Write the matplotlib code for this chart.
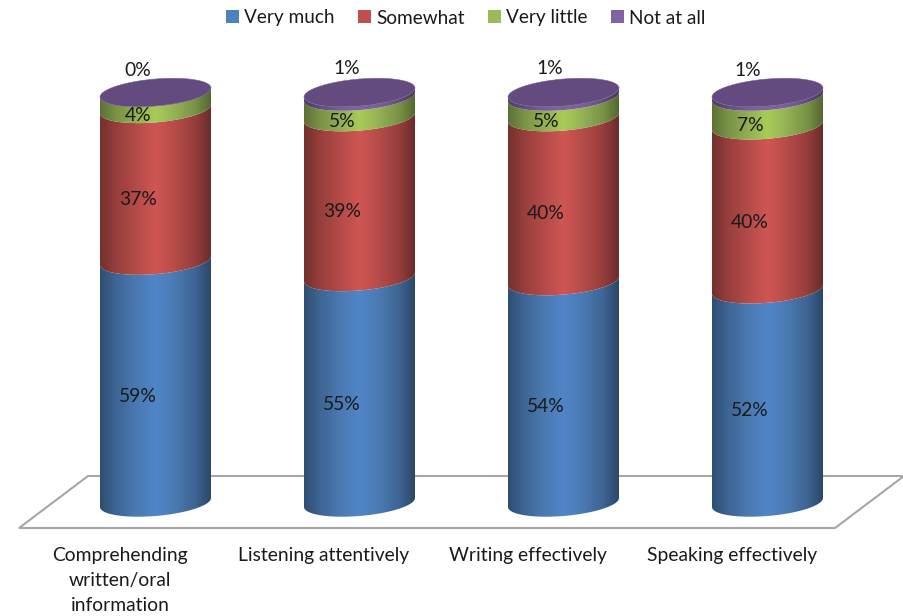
import numpy as np
import matplotlib
matplotlib.use("Agg")
import matplotlib.pyplot as plt
from matplotlib.colors import LinearSegmentedColormap, to_rgb
from matplotlib.patches import Patch, PathPatch, Polygon
from matplotlib.path import Path

categories = ["Comprehending\nwritten/oral\ninformation", "Listening attentively",
              "Writing effectively", "Speaking effectively"]
very_much = [59, 55, 54, 52]
somewhat = [37, 39, 40, 40]
very_little = [4, 5, 5, 7]
not_at_all = [0, 1, 1, 1]
series_names = ["Very much", "Somewhat", "Very little", "Not at all"]
series_colors = ["#4f81bd", "#c0504d", "#9bbb59", "#8064a2"]
center_colors = ["#5085c8", "#cf5653", "#a8cc58", "#8064a2"]

W, H = 904, 616
PX_X, PX_Y = 204.0, 4.1          # pixels per category / per percent
X0_PX, Y0_PX = 155.5, 502.5      # pixel position of category 0, value 0
RX = 55.5 / PX_X                 # cylinder half width
RY = 13.5 / PX_Y                 # ellipse half height
SHEAR = 4.5 / PX_Y               # tilt of the ellipses

plt.rcParams["font.family"] = ["Lato", "DejaVu Sans"]
fig = plt.figure(figsize=(W / 100, H / 100), dpi=100)
ax = fig.add_axes([0, 0, 1, 1])
ax.set_xlim(-X0_PX / PX_X, (W - X0_PX) / PX_X)
ax.set_ylim((Y0_PX - H) / PX_Y, Y0_PX / PX_Y)
ax.axis("off")

# floor
fl = (-0.669, 3.331, 0.338, -6.22, 6.46)
ax.add_patch(Polygon([(fl[0], fl[3]), (fl[0] + fl[2], fl[4]), (fl[1] + fl[2], fl[4]), (fl[1], fl[3])],
                     closed=True, fc="white", ec="#a6a6a6", lw=1.5, zorder=1))


def arc(cx, y, t0, t1, n=80):
    t = np.linspace(t0, t1, n)
    return np.column_stack([cx + RX * np.cos(t), y + SHEAR * np.cos(t) + RY * np.sin(t)])


def gradient(base, center):
    b = np.array(to_rgb(base))
    return LinearSegmentedColormap.from_list("g", [
        (0.0, b * 0.6), (0.14, b * 0.78), (0.34, b * 0.95),
        (0.5, to_rgb(center)), (0.66, b * 0.96), (0.86, b * 0.78), (1.0, b * 0.55)])


stack = np.array([very_much, somewhat, very_little, not_at_all], dtype=float)
tops = stack.cumsum(axis=0)
grad = np.linspace(0, 1, 256)[None, :]

for i in range(len(categories)):
    bottom = 0.0
    for s in range(stack.shape[0]):
        top = tops[s, i]
        if top > bottom:
            lower = arc(i, bottom, np.pi, 2 * np.pi)
            upper = arc(i, top, 2 * np.pi, np.pi)
            verts = np.vstack([lower, upper, lower[:1]])
            clip = PathPatch(Path(verts), fc="none", ec="none", transform=ax.transData)
            ax.add_patch(clip)
            im = ax.imshow(grad, extent=(i - RX, i + RX, bottom - RY - 2, top + RY + 2),
                           aspect="auto", cmap=gradient(series_colors[s], center_colors[s]),
                           vmin=0, vmax=1, zorder=2 + s * 0.1, interpolation="bilinear")
            im.set_clip_path(clip)
        bottom = top
    cap = arc(i, tops[-1, i], 0, 2 * np.pi)
    ax.add_patch(Polygon(cap, closed=True, fc="#644b7f", ec="#75608f", lw=0.4, zorder=3))

ax.set_xlim(-X0_PX / PX_X, (W - X0_PX) / PX_X)
ax.set_ylim((Y0_PX - H) / PX_Y, Y0_PX / PX_Y)

# data labels
LABEL_SIZE = 13.9
for i in range(len(categories)):
    bottom = 0.0
    for s in range(3):
        v = stack[s, i]
        ax.annotate(f"{int(v)}%", (i, bottom + v / 2), xytext=(-17.5 * 0.72, -14.8 * 0.72),
                    textcoords="offset points", ha="center", va="center",
                    fontsize=LABEL_SIZE, color="#1a1a1a", zorder=5)
        bottom += v

top_dx = [-17.5, -12.5, -13.5, -20]
top_dy = [21.5, 24, 24, 21.5]
for i, v in enumerate(not_at_all):
    ax.annotate(f"{v}%", (i, tops[-1, i]), xytext=(top_dx[i] * 0.72, top_dy[i] * 0.72),
                textcoords="offset points", ha="center", va="center",
                fontsize=LABEL_SIZE, color="#1a1a1a", zorder=5)

# category labels
for i, c in enumerate(categories):
    ax.annotate(c, (i, fl[3]), xytext=(-35.5 * 0.72, -19 * 0.72), textcoords="offset points",
                ha="center", va="top", fontsize=LABEL_SIZE, color="#1a1a1a",
                linespacing=1.58, zorder=5)

# legend
handles = [Patch(fc=c, ec="none") for c in series_colors]
fig.legend(handles, series_names, loc="center", bbox_to_anchor=(466 / W, 1 - 18 / H), ncol=4,
           frameon=False, fontsize=13.7, labelcolor="#1a1a1a",
           handlelength=0.66, handleheight=0.66, handletextpad=0.3, columnspacing=1.22,
           borderpad=0, borderaxespad=0)

fig.savefig("out.png", dpi=100)
